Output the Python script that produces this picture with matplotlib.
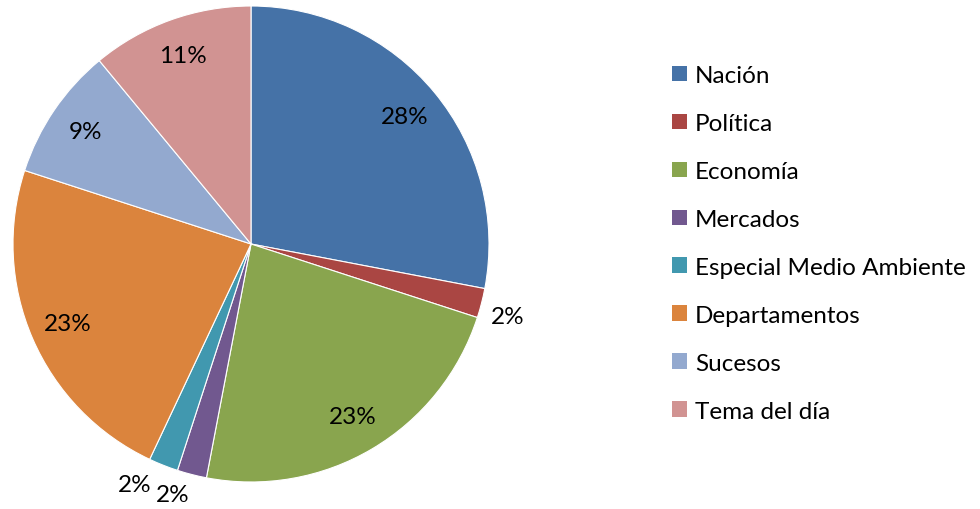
import numpy as np
import matplotlib
matplotlib.use("Agg")
import matplotlib.pyplot as plt
from matplotlib.transforms import Affine2D

categories = ["Nación", "Política", "Economía", "Mercados",
              "Especial Medio Ambiente", "Departamentos", "Sucesos", "Tema del día"]
values = [28, 2, 23, 2, 2, 23, 9, 11]
colors = ["#4572A7", "#AA4643", "#89A54E", "#71588F",
          "#4198AF", "#DB843D", "#93A9CF", "#D19392"]

plt.rcParams['font.family'] = ['Lato', 'DejaVu Sans']
FS = 17.5

fig = plt.figure(figsize=(9.8, 5.1), dpi=100)
ax = fig.add_axes([13/980, 27/510, 476/980, 476/510])
wedges, _ = ax.pie(values, colors=colors, startangle=90, counterclock=False,
                   radius=1, wedgeprops=dict(edgecolor="white", linewidth=0.8))
ax.set_xlim(-1, 1)
ax.set_ylim(-1, 1)
ax.set_aspect("equal")
ax.axis("off")

total = sum(values)
outside = []
for w, v in zip(wedges, values):
    mid = np.deg2rad((w.theta1 + w.theta2) / 2)
    txt = f"{round(100 * v / total)}%"
    if v / total >= 0.05:
        r = 0.84
        ax.text(r * np.cos(mid), r * np.sin(mid), txt, ha="center", va="center",
                fontsize=FS)
    else:
        r = 1.04
        x, y = r * np.cos(mid), r * np.sin(mid)
        ha = "left" if x > 0 else "right"
        va = "top" if y < 0 else "bottom"
        outside.append(ax.text(x, y, txt, ha=ha, va=va, fontsize=FS))

# resolve overlaps between outside labels (shift later label horizontally)
fig.canvas.draw()
renderer = fig.canvas.get_renderer()
for prev, cur in zip(outside[:-1], outside[1:]):
    bp = prev.get_window_extent(renderer)
    bc = cur.get_window_extent(renderer)
    if bp.overlaps(bc):
        pad = 4
        if bc.x0 < bp.x0:
            dx = -(bc.x1 - bp.x0 + pad)
        else:
            dx = bp.x1 - bc.x0 + pad
        cur.set_transform(cur.get_transform() + Affine2D().translate(dx, 0))

leg = fig.legend(wedges, categories, loc="upper left",
                 bbox_to_anchor=(672/980, 1 - 66/510), frameon=False,
                 fontsize=FS, handlelength=0.62, handleheight=0.62,
                 handletextpad=0.33, labelspacing=1.11, borderpad=0,
                 borderaxespad=0)
for h in leg.legend_handles:
    h.set_edgecolor("none")

fig.savefig("out.png", dpi=100)
